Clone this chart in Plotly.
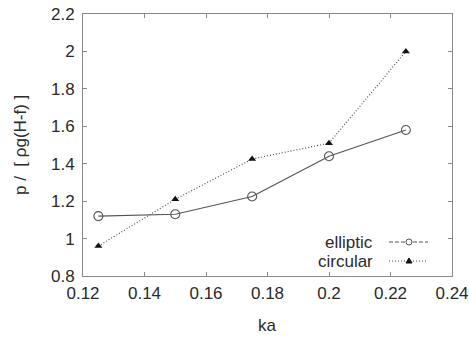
import plotly.graph_objects as go

ka = [0.125, 0.15, 0.175, 0.2, 0.225]
elliptic = [1.12, 1.13, 1.225, 1.44, 1.58]
circular = [0.96, 1.21, 1.425, 1.51, 2.0]

x_ticks = [0.12, 0.14, 0.16, 0.18, 0.2, 0.22, 0.24]
x_labels = ["0.12", "0.14", "0.16", "0.18", "0.2", "0.22", "0.24"]
y_ticks = [0.8, 1.0, 1.2, 1.4, 1.6, 1.8, 2.0, 2.2]
y_labels = ["0.8", "1", "1.2", "1.4", "1.6", "1.8", "2", "2.2"]

FONT = "Liberation Sans, Arial, sans-serif"
TXT = "#2a2a2a"
FS = 17

fig = go.Figure()
fig.add_trace(go.Scatter(
    x=ka, y=elliptic, mode="lines+markers", name="elliptic",
    line=dict(color="#555555", width=1.2),
    marker=dict(symbol="circle-open", size=9, color="#555555", line=dict(width=1.1)),
    showlegend=False))
fig.add_trace(go.Scatter(
    x=ka, y=circular, mode="lines+markers", name="circular",
    line=dict(color="#444444", width=1.1, dash="1px,2px"),
    marker=dict(symbol="triangle-up", size=7, color="#111111"),
    showlegend=False))

axis_common = dict(
    showgrid=False, zeroline=False, showline=True, linecolor="#888888", linewidth=1,
    mirror="ticks", ticks="inside", ticklen=4, tickcolor="#888888",
    tickfont=dict(family=FONT, size=FS, color=TXT), automargin=False,
)
fig.update_xaxes(range=[0.12, 0.24], tickvals=x_ticks, ticktext=x_labels,
                 ticklabelstandoff=2, **axis_common)
fig.update_yaxes(range=[0.8, 2.2], tickvals=y_ticks, ticktext=y_labels,
                 ticklabelstandoff=4, **axis_common)

def px_x(p):
    return (p - 83) / (452 - 83)

def px_y(p):
    return (276 - p) / (276 - 14)

# axis titles
fig.add_annotation(x=px_x(267), y=px_y(325), xref="paper", yref="paper", text="ka",
                   showarrow=False, xanchor="center", yanchor="middle",
                   font=dict(family=FONT, size=FS, color=TXT))
fig.add_annotation(x=px_x(20), y=px_y(145), xref="paper", yref="paper", text="p /  [ ρg(H-f) ]",
                   showarrow=False, xanchor="center", yanchor="middle", textangle=-90,
                   font=dict(family=FONT, size=FS, color=TXT))

# custom gnuplot-style legend (text left, sample right)
legend_rows = [("elliptic", 242, "#555555", "4px,2px"), ("circular", 261, "#444444", "1px,2px")]
for name, yp, col, dash in legend_rows:
    fig.add_annotation(x=px_x(375), y=px_y(yp), xref="paper", yref="paper",
                       text=name, showarrow=False, xanchor="right", yanchor="middle",
                       font=dict(family=FONT, size=FS, color=TXT))
    fig.add_shape(type="line", xref="paper", yref="paper",
                  x0=px_x(389), x1=px_x(428), y0=px_y(yp), y1=px_y(yp),
                  line=dict(color=col, width=1, dash=dash))
fig.add_shape(type="circle", xref="paper", yref="paper",
              x0=px_x(406), x1=px_x(412), y0=px_y(245), y1=px_y(239),
              line=dict(color="#555555", width=1), fillcolor="white")
fig.add_shape(type="path", xref="paper", yref="paper",
              path=f"M {px_x(406)} {px_y(263)} L {px_x(412)} {px_y(263)} L {px_x(409)} {px_y(258)} Z",
              line=dict(color="#111111", width=1), fillcolor="#111111")

fig.update_layout(
    width=469, height=337,
    margin=dict(l=83, r=17, t=14, b=61, autoexpand=False),
    paper_bgcolor="white", plot_bgcolor="white",
    font=dict(family=FONT, color=TXT),
)

fig.write_html("out.html", config={"displayModeBar": False},
               post_script="document.body.style.margin='0';document.body.style.overflow='hidden';")
